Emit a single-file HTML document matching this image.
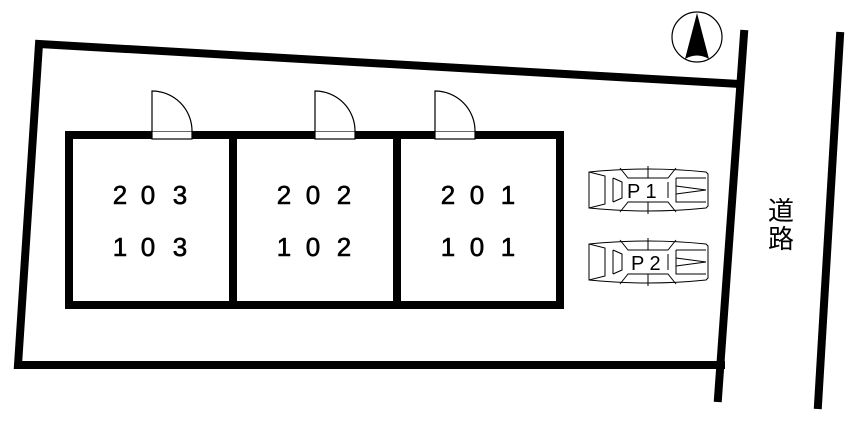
<!DOCTYPE html>
<html><head><meta charset="utf-8"><style>html,body{margin:0;padding:0;background:#fff}svg{display:block}</style></head>
<body>
<svg width="864" height="423" viewBox="0 0 864 423" xmlns="http://www.w3.org/2000/svg">
<rect width="864" height="423" fill="#fff"/>
<g stroke="#000" stroke-width="8" fill="none" stroke-linecap="square">
<polyline points="740,84 39,44 18,365 721,365"/>
<line x1="744" y1="34" x2="718" y2="398"/>
<line x1="840" y1="36" x2="818" y2="405"/>
</g>
<rect x="69" y="135" width="491" height="170" fill="none" stroke="#000" stroke-width="8"/>
<rect x="229" y="135" width="8" height="170" fill="#000"/>
<rect x="393" y="135" width="8" height="170" fill="#000"/>
<g fill="#fff" stroke="#000" stroke-width="1.2">
<rect x="152" y="131" width="40" height="8"/>
<rect x="315" y="131" width="40" height="8"/>
<rect x="435" y="131" width="40" height="8"/>
<path d="M152,131 V91 A40,40 0 0 1 192,131"/>
<path d="M315,131 V91 A40,40 0 0 1 355,131"/>
<path d="M435,131 V91 A40,40 0 0 1 475,131"/>
</g>
<g font-family="Liberation Sans, sans-serif" font-size="26" fill="#000" text-anchor="middle" stroke="#000" stroke-width="0.6">
<text y="204"><tspan x="120">2</tspan><tspan x="148">0</tspan><tspan x="180">3</tspan></text>
<text y="256"><tspan x="120">1</tspan><tspan x="148">0</tspan><tspan x="180">3</tspan></text>
<text y="204"><tspan x="284">2</tspan><tspan x="313">0</tspan><tspan x="344">2</tspan></text>
<text y="256"><tspan x="284">1</tspan><tspan x="313">0</tspan><tspan x="344">2</tspan></text>
<text y="204"><tspan x="448">2</tspan><tspan x="477">0</tspan><tspan x="508">1</tspan></text>
<text y="256"><tspan x="448">1</tspan><tspan x="477">0</tspan><tspan x="508">1</tspan></text>
</g>
<g font-family="Liberation Sans, 'Noto Sans CJK JP', sans-serif" font-size="26" fill="#000" text-anchor="middle">
<text x="781" y="220">道</text>
<text x="781" y="248">路</text>
</g>
<circle cx="697" cy="37" r="25" fill="#fff" stroke="#000" stroke-width="1.2"/>
<path d="M697,13 L685,59 Q697,52 709,59 Z" fill="#000"/>
<g id="car" fill="none" stroke="#000" stroke-width="1">
<path d="M589,172 Q648,166 706,172 L708,174 V206 L706,208 Q648,214 589,208 Z"/>
<path d="M589,172 L605,176 V204 L589,208"/>
<path d="M613,178 V202 M613,178 L622,182 V198 L613,202"/>
<path d="M620,168 L628,178 H668 L676,168 M620,212 L628,202 H668 L676,212"/>
<path d="M648,166 V178 M648,202 V214"/>
<path d="M668,182 V198 M676,178 V202 L706,202 M676,178 L706,178"/>
<path d="M676,186 L706,190 L676,194"/>
</g>
<use href="#car" y="72"/>
<g font-family="Liberation Sans, sans-serif" font-size="20" fill="#000">
<text x="627" y="198">P 1</text>
<text x="631" y="270">P 2</text>
</g>
</svg>
</body></html>
